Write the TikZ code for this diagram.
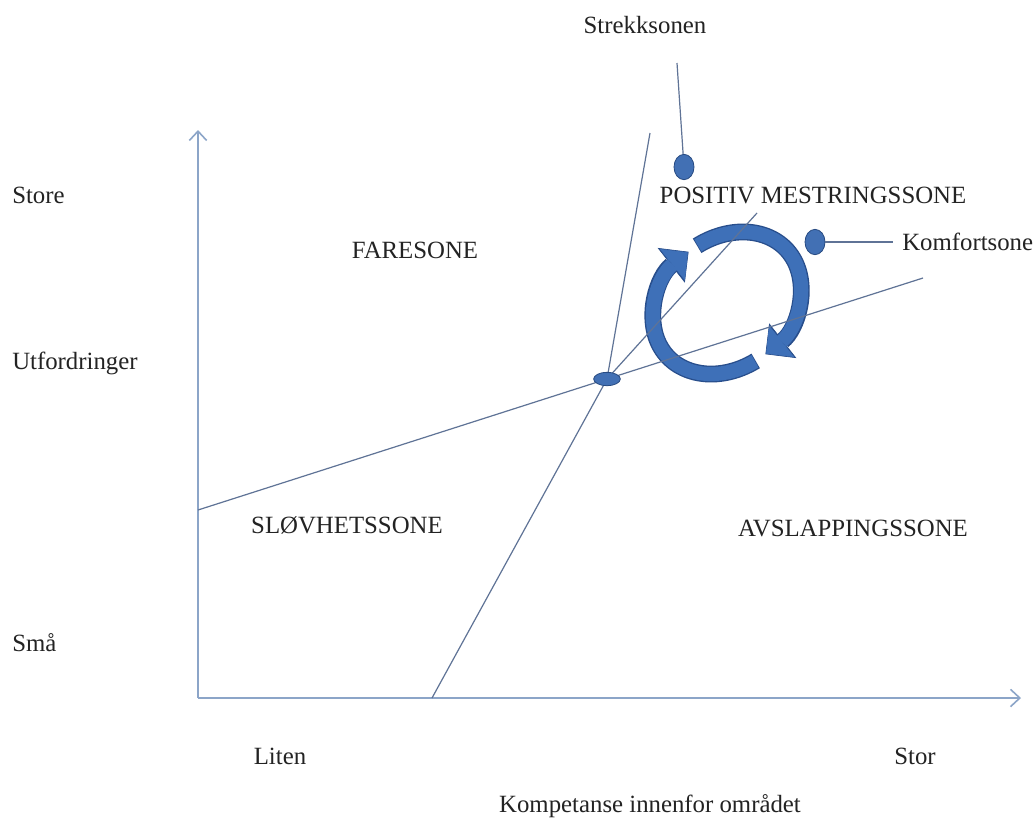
\documentclass[tikz,border=0pt]{standalone}
\usepackage{fontspec}
\setmainfont{Liberation Serif}
\usetikzlibrary{arrows.meta,shapes.geometric}
\definecolor{axiscol}{RGB}{140,165,200}
\definecolor{zonecol}{RGB}{95,115,150}
\definecolor{loopcol}{RGB}{62,112,184}
\definecolor{loopedge}{RGB}{40,78,140}
\definecolor{dotcol}{RGB}{66,112,180}
\definecolor{dotedge}{RGB}{40,75,130}
\definecolor{txtcol}{RGB}{35,35,35}
\begin{document}
\begin{tikzpicture}[x=0.75pt,y=-0.75pt,
  lbl/.style={font=\fontsize{18.6}{22}\selectfont, text=txtcol, inner sep=0pt},
  axisline/.style={draw=axiscol, line width=1.2pt, -{Straight Barb[length=7pt,width=13pt]}},
  zoneline/.style={draw=zonecol, line width=0.9pt},
  dotnode/.style={ellipse, fill=dotcol, draw=dotedge, line width=0.6pt, inner sep=0pt},
  loopedgeband/.style={draw=loopedge, line width=12.6pt, -{Triangle[width=33pt,length=16.5pt,line width=0.5pt]}},
  loopband/.style={draw=loopcol, line width=10.6pt, -{Triangle[width=30pt,length=14.8pt,line width=0.5pt]}}]
\fill[white] (0,0) rectangle (1036,822);
\useasboundingbox (0,0) rectangle (1036,822);

% coordinates
\coordinate (origin) at (198,698);
\coordinate (ytop) at (198,130);
\coordinate (xend) at (1021,698);
\coordinate (shallowL) at (198,510);
\coordinate (shallowR) at (923,278);
\coordinate (steepB) at (432,698);
\coordinate (steepT) at (650,133);
\coordinate (diagT) at (757,213);
\coordinate (X) at (607,379);
\coordinate (strekkTop) at (677,63);
\coordinate (komfR) at (893,242);

% circular arrows
\begin{scope}[shift={(727,303)}, rotate=40]
  \draw[loopedgeband] (280:80 and 64) arc[start angle=280, end angle=452.5, x radius=80, y radius=64];
  \draw[loopedgeband] (101:80 and 64) arc[start angle=101, end angle=272.5, x radius=80, y radius=64];
  \draw[loopband] (280.6:80 and 64) arc[start angle=280.6, end angle=451.8, x radius=80, y radius=64];
  \draw[loopband] (101.6:80 and 64) arc[start angle=101.6, end angle=271.8, x radius=80, y radius=64];
\end{scope}

% axes
\draw[axisline] (origin) -- (ytop);
\draw[axisline] (origin) -- (xend);

% zone lines
\draw[zoneline] (shallowL) -- (X) -- (shallowR);
\draw[zoneline] (steepB) -- (X) -- (steepT);
\draw[zoneline] (X) -- (diagT);
\node[dotnode, minimum width=20pt, minimum height=10pt] (mid) at (X) {};

% leader dots
\node[dotnode, minimum width=15pt, minimum height=19pt] (sdot) at (684,167) {};
\draw[zoneline] (strekkTop) -- (sdot);
\node[dotnode, minimum width=15pt, minimum height=19pt] (kdot) at (815,242) {};
\draw[zoneline] (kdot) -- (komfR);

% labels
\node[lbl, anchor=west] (store) at (12,195) {Store};
\node[lbl, anchor=west] (utf) at (12,363) {Utfordringer};
\node[lbl, anchor=west] (smaa) at (12,643) {Små};
\node[lbl] (fare) at (415,250) {FARESONE};
\node[lbl] (slov) at (347,525) {SLØVHETSSONE};
\node[lbl] (avsl) at (853,528) {AVSLAPPINGSSONE};
\node[lbl] (pos) at (813,195) {POSITIV MESTRINGSSONE};
\node[lbl] (strekk) at (645,25) {Strekksonen};
\node[lbl, anchor=west] (komf) at (902,242) {Komfortsone};
\node[lbl] (liten) at (280,756) {Liten};
\node[lbl] (stor) at (915,756) {Stor};
\node[lbl] (komp) at (650,806) {Kompetanse innenfor området};
\end{tikzpicture}
\end{document}
